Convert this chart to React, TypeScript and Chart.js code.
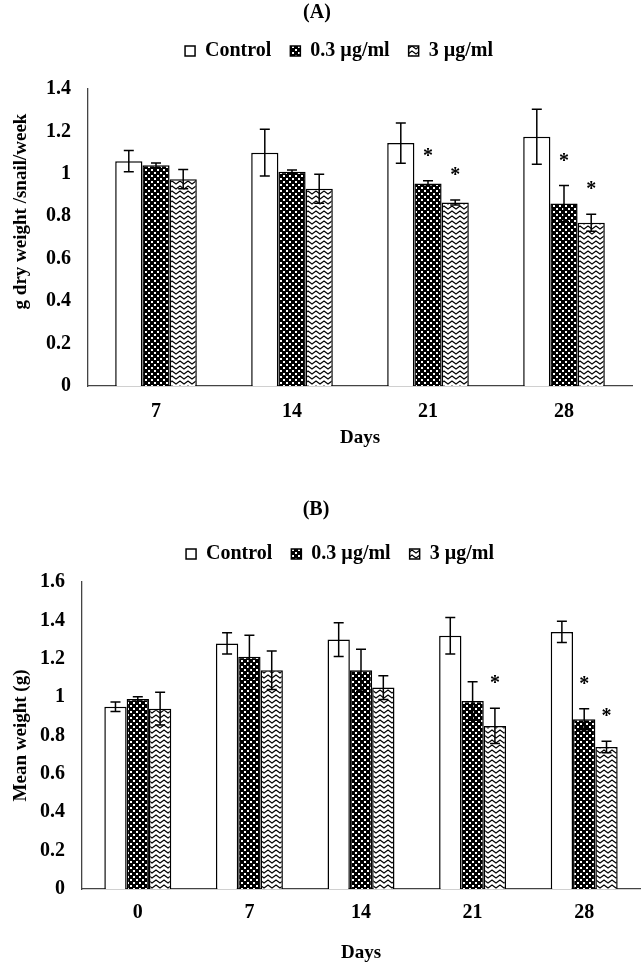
import React, { useEffect, useRef } from 'react';
import { Chart, registerables } from 'chart.js';

Chart.register(...registerables);

const FONT = "'Liberation Serif', 'Times New Roman', Times, serif";
Chart.defaults.font.family = FONT;
Chart.defaults.font.weight = 'bold';
Chart.defaults.color = '#000';

const seriesNames = ['Control', '0.3 µg/ml', '3 µg/ml'];

// Panel A
const titleA = '(A)';
const yTitleA = 'g dry weight /snail/week';
const daysA = ['7', '14', '21', '28'];
const controlA = [1.06, 1.1, 1.145, 1.175];
const controlErrA = [0.05, 0.11, 0.095, 0.13];
const lowA = [1.04, 1.01, 0.955, 0.86];
const lowErrA = [0.011, 0.008, 0.013, 0.085];
const highA = [0.975, 0.93, 0.865, 0.77];
const highErrA = [0.045, 0.068, 0.012, 0.04];
const controlSigA = [false, false, false, false];
const lowSigA = [false, false, true, true];
const highSigA = [false, false, true, true];
const yTicksA = ['0', '0.2', '0.4', '0.6', '0.8', '1', '1.2', '1.4'];
const yMaxA = 1.4;

// Panel B
const titleB = '(B)';
const yTitleB = 'Mean weight (g)';
const daysB = ['0', '7', '14', '21', '28'];
const controlB = [0.95, 1.28, 1.3, 1.32, 1.34];
const controlErrB = [0.025, 0.055, 0.088, 0.095, 0.055];
const lowB = [0.99, 1.21, 1.14, 0.98, 0.885];
const lowErrB = [0.012, 0.112, 0.11, 0.1, 0.055];
const highB = [0.94, 1.14, 1.05, 0.85, 0.74];
const highErrB = [0.085, 0.1, 0.062, 0.092, 0.03];
const controlSigB = [false, false, false, false, false];
const lowSigB = [false, false, false, false, true];
const highSigB = [false, false, false, true, true];
const yTicksB = ['0', '0.2', '0.4', '0.6', '0.8', '1', '1.2', '1.4', '1.6'];
const yMaxB = 1.6;

function makeDots(ctx: CanvasRenderingContext2D) {
  const c = document.createElement('canvas');
  c.width = 6;
  c.height = 6;
  const g = c.getContext('2d')!;
  g.fillStyle = '#000';
  g.fillRect(0, 0, 6, 6);
  g.fillStyle = '#fff';
  g.fillRect(1, 1, 2, 2);
  g.fillRect(4, 4, 2, 2);
  return ctx.createPattern(c, 'repeat')!;
}

function makeZig(ctx: CanvasRenderingContext2D) {
  const c = document.createElement('canvas');
  c.width = 8;
  c.height = 5;
  const g = c.getContext('2d')!;
  g.fillStyle = '#fff';
  g.fillRect(0, 0, 8, 5);
  g.strokeStyle = '#000';
  g.lineWidth = 1.3;
  g.beginPath();
  g.moveTo(-4, 1);
  g.lineTo(0, 4);
  g.lineTo(4, 1);
  g.lineTo(8, 4);
  g.lineTo(12, 1);
  g.stroke();
  return ctx.createPattern(c, 'repeat')!;
}

const errorBarPlugin = {
  id: 'errorBars',
  afterDatasetsDraw(chart: any) {
    const ctx = chart.ctx;
    const y = chart.scales.y;
    ctx.save();
    ctx.strokeStyle = '#000';
    ctx.lineWidth = 1.5;
    chart.data.datasets.forEach((ds: any, i: number) => {
      const meta = chart.getDatasetMeta(i);
      meta.data.forEach((bar: any, j: number) => {
        const v = ds.data[j];
        const e = ds.errors[j];
        const top = y.getPixelForValue(v + e);
        const bot = y.getPixelForValue(v - e);
        const x = bar.x;
        ctx.beginPath();
        ctx.moveTo(x, top);
        ctx.lineTo(x, bot);
        ctx.moveTo(x - 5, top);
        ctx.lineTo(x + 5, top);
        ctx.moveTo(x - 5, bot);
        ctx.lineTo(x + 5, bot);
        ctx.stroke();
        if (ds.sig && ds.sig[j]) {
          ctx.fillStyle = '#000';
          ctx.font = `bold 20px ${FONT}`;
          ctx.textAlign = 'center';
          ctx.textBaseline = 'alphabetic';
          ctx.fillText('*', x, top - 19);
        }
      });
    });
    ctx.restore();
  },
};

type Lay = {
  height: number;
  titlePadTop: number;
  legendExtra: number;
  legendDx: number;
  legendDy: number;
  titleDx: number;
  yAxisWidth: number;
  xAxisHeight: number;
  padRight: number;
  xTickPad: number;
  yTitleShift: number;
};

type PanelProps = {
  title: string;
  yTitle: string;
  labels: string[];
  values: number[][];
  errors: number[][];
  sigs: boolean[][];
  yTicks: string[];
  yMax: number;
  lay: Lay;
};

function Panel(p: PanelProps) {
  const ref = useRef<HTMLCanvasElement>(null);
  useEffect(() => {
    const canvas = ref.current!;
    const ctx = canvas.getContext('2d')!;
    const fills = ['#fff', makeDots(ctx), makeZig(ctx)];
    const L = p.lay;
    const tweak = {
      id: 'tweak',
      beforeLayout(chart: any) {
        const lg = chart.legend;
        if (lg && !lg.__patched) {
          lg.__patched = true;
          const fit = lg.fit.bind(lg);
          lg.fit = () => {
            fit();
            lg.height += L.legendExtra;
          };
        }
      },
      afterLayout(chart: any) {
        const lg = chart.legend;
        if (lg) {
          lg.left += L.legendDx;
          lg.right += L.legendDx;
          lg.top += L.legendDy;
          lg.bottom += L.legendDy;
        }
        const t = chart.titleBlock;
        if (t) {
          t.left += L.titleDx;
          t.right += L.titleDx;
        }
        const ys = chart.scales.y;
        if (ys && !ys.__patched && L.yTitleShift) {
          ys.__patched = true;
          const dt = ys.drawTitle.bind(ys);
          ys.drawTitle = () => {
            ys.ctx.save();
            ys.ctx.translate(0, L.yTitleShift);
            dt();
            ys.ctx.restore();
          };
        }
      },
    };
    const chart = new Chart(canvas, {
      type: 'bar',
      data: {
        labels: p.labels,
        datasets: seriesNames.map((name, i) => ({
          label: name,
          data: p.values[i],
          errors: p.errors[i],
          sig: p.sigs[i],
          backgroundColor: fills[i] as any,
          borderColor: '#000',
          borderWidth: 1.5,
          categoryPercentage: 0.6,
          barPercentage: 1,
        })) as any,
      },
      options: {
        responsive: false,
        animation: false,
        layout: { padding: { left: 0, right: L.padRight, top: 0, bottom: 0 } },
        scales: {
          x: {
            grid: { display: false, drawTicks: false },
            border: { display: true, color: '#444', width: 1.3 },
            ticks: { color: '#000', font: { size: 20, weight: 'bold' }, padding: L.xTickPad },
            title: { display: true, text: 'Days', color: '#000', font: { size: 19, weight: 'bold' }, padding: 0 },
            afterFit: (s: any) => {
              s.height = L.xAxisHeight;
            },
          },
          y: {
            min: 0,
            max: p.yMax,
            grid: { display: false, drawTicks: false },
            border: { display: true, color: '#444', width: 1.3 },
            ticks: {
              stepSize: 0.2,
              color: '#000',
              font: { size: 20, weight: 'bold' },
              padding: 17,
              callback: (_v: any, i: number) => p.yTicks[i],
            },
            title: {
              display: true,
              text: p.yTitle,
              color: '#000',
              font: { size: 19, weight: 'bold' },
              padding: { top: 10, bottom: 0 },
            },
            afterFit: (s: any) => {
              s.width = L.yAxisWidth;
            },
          },
        } as any,
        plugins: {
          title: {
            display: true,
            text: p.title,
            color: '#000',
            font: { size: 20, weight: 'bold' },
            padding: { top: L.titlePadTop, bottom: 0 },
          },
          legend: {
            labels: {
              boxWidth: 10,
              boxHeight: 10,
              padding: 19,
              color: '#000',
              font: { size: 20, weight: 'bold' },
            },
          },
          tooltip: { enabled: false },
        },
      },
      plugins: [tweak, errorBarPlugin],
    });
    return () => chart.destroy();
  }, []);
  return <canvas ref={ref} width={644} height={p.lay.height} style={{ display: 'block' }} />;
}

export default function App() {
  return (
    <div style={{ position: 'absolute', left: 0, top: 0, width: 644, height: 964, background: '#fff' }}>
      <Panel
        title={titleA}
        yTitle={yTitleA}
        labels={daysA}
        values={[controlA, lowA, highA]}
        errors={[controlErrA, lowErrA, highErrA]}
        sigs={[controlSigA, lowSigA, highSigA]}
        yTicks={yTicksA}
        yMax={yMaxA}
        lay={{
          height: 449,
          titlePadTop: 1,
          legendExtra: 15,
          legendDx: 23,
          legendDy: -3,
          titleDx: 1,
          yAxisWidth: 88,
          xAxisHeight: 63,
          padRight: 12,
          xTickPad: 14,
          yTitleShift: -26,
        }}
      />
      <Panel
        title={titleB}
        yTitle={yTitleB}
        labels={daysB}
        values={[controlB, lowB, highB]}
        errors={[controlErrB, lowErrB, highErrB]}
        sigs={[controlSigB, lowSigB, highSigB]}
        yTicks={yTicksB}
        yMax={yMaxB}
        lay={{
          height: 515,
          titlePadTop: 49,
          legendExtra: 11,
          legendDx: 20,
          legendDy: 3,
          titleDx: -4,
          yAxisWidth: 82,
          xAxisHeight: 75,
          padRight: 4,
          xTickPad: 12,
          yTitleShift: 0,
        }}
      />
    </div>
  );
}
